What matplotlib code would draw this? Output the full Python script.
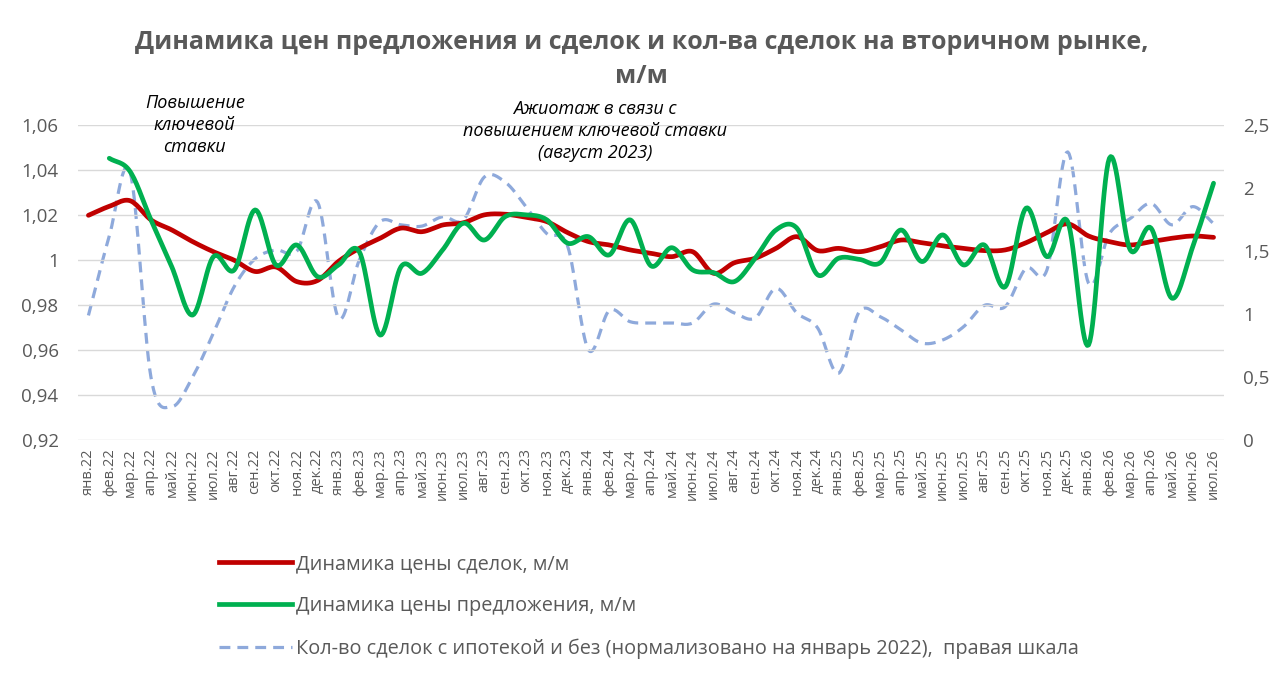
import numpy as np
import matplotlib.pyplot as plt
from matplotlib.lines import Line2D

plt.rcParams["font.family"] = ["Open Sans", "DejaVu Sans"]

months = ["янв", "фев", "мар", "апр", "май", "июн",
          "июл", "авг", "сен", "окт", "ноя", "дек"]
labels = [f"{m}.{y}" for y in (22, 23, 24, 25) for m in months] + \
         [f"{m}.26" for m in months[:7]]

# Динамика цены сделок, м/м
deals_price = [1.020, 1.024, 1.0265, 1.018, 1.0135, 1.0083, 1.0038, 1.000, 0.995, 0.997,
               0.9905, 0.991, 0.9995, 1.0053, 1.0098, 1.0143, 1.0127, 1.0157, 1.0167, 1.0202,
               1.0205, 1.0191, 1.0172, 1.0123, 1.0083, 1.0068, 1.0046, 1.0031, 1.0016, 1.0038,
               0.9942, 0.9989, 1.0009, 1.0053, 1.0105, 1.0043, 1.0053, 1.0038, 1.006, 1.009,
               1.0078, 1.0064, 1.0053, 1.0043, 1.0046, 1.0078, 1.0123, 1.0162, 1.0108, 1.0083,
               1.0068, 1.0083, 1.0098, 1.0108, 1.0102]

# Динамика цены предложения, м/м (нет данных за янв.22)
offer_price = [np.nan, 1.0454, 1.0395, 1.018, 0.9971, 0.9756, 1.0016, 0.9957, 1.0224, 0.9979,
               1.0068, 0.9927, 0.9979, 1.0038, 0.9667, 0.9971, 0.9942, 1.0046, 1.0165, 1.009,
               1.0194, 1.0202, 1.018, 1.0076, 1.0105, 1.0024, 1.018, 0.9975, 1.0056, 0.9957,
               0.9945, 0.9905, 1.0009, 1.0135, 1.0143, 0.9935, 1.0009, 1.0004, 0.9989, 1.0135,
               0.9994, 1.0113, 0.9979, 1.0068, 0.9882, 1.0232, 1.0016, 1.0172, 0.9623, 1.0454,
               1.0046, 1.0143, 0.9831, 1.006, 1.0343]

# Кол-во сделок (норм. на январь 2022), правая шкала
deals_count = [0.99, 1.62, 2.13, 0.50, 0.265, 0.50, 0.85, 1.22, 1.44, 1.51,
               1.50, 1.89, 0.97, 1.43, 1.735, 1.71, 1.70, 1.775, 1.75, 2.09,
               2.05, 1.855, 1.64, 1.54, 0.715, 1.03, 0.94, 0.93, 0.93, 0.93,
               1.08, 1.01, 0.97, 1.205, 1.01, 0.89, 0.53, 1.02, 0.98, 0.875,
               0.77, 0.795, 0.90, 1.07, 1.06, 1.365, 1.35, 2.29, 1.245, 1.64,
               1.76, 1.88, 1.71, 1.855, 1.72]

GREY = "#595959"


def smooth(y, steps=16):
    """Catmull-Rom curve through the points, like Excel's smoothed line."""
    y = np.asarray(y, dtype=float)
    idx = np.where(~np.isnan(y))[0]
    xs, ys = idx.astype(float), y[idx]
    px = np.concatenate([[2 * xs[0] - xs[1]], xs, [2 * xs[-1] - xs[-2]]])
    py = np.concatenate([[2 * ys[0] - ys[1]], ys, [2 * ys[-1] - ys[-2]]])
    t = np.linspace(0, 1, steps, endpoint=False)
    out_x, out_y = [], []
    for i in range(1, len(px) - 2):
        for p, out in ((px, out_x), (py, out_y)):
            p0, p1, p2, p3 = p[i - 1], p[i], p[i + 1], p[i + 2]
            out.extend(0.5 * (2 * p1 + (-p0 + p2) * t
                              + (2 * p0 - 5 * p1 + 4 * p2 - p3) * t ** 2
                              + (-p0 + 3 * p1 - 3 * p2 + p3) * t ** 3))
    out_x.append(xs[-1])
    out_y.append(ys[-1])
    return np.array(out_x), np.array(out_y)


fig = plt.figure(figsize=(12.83, 6.83), dpi=100)
ax = fig.add_axes([0.0608, 0.3558, 0.8932, 0.4605])
ax2 = ax.twinx()

ax.set_zorder(ax2.get_zorder() + 1)
ax.patch.set_visible(False)

bx, by = smooth(deals_count)
ax2.plot(bx, by, color="#8EA9DB", lw=2.3, dashes=(3.4, 2.2))
rx, ry = smooth(deals_price)
ax.plot(rx, ry, color="#C00000", lw=3.4, solid_capstyle="round")
gx, gy = smooth(offer_price)
ax.plot(gx, gy, color="#00B050", lw=3.4, solid_capstyle="round")

x = np.arange(len(labels))
ax.set_xlim(-0.5, len(labels) - 0.5)
ax.set_ylim(0.92, 1.06)
yt = np.arange(0.92, 1.0601, 0.02)
ax.set_yticks(yt)
ax.set_yticklabels([f"{v:.2f}".replace(".", ",").replace("1,00", "1") for v in yt])
ax2.set_ylim(0, 2.5)
ax2.set_yticks(np.arange(0, 2.51, 0.5))
ax2.set_yticklabels(["0", "0,5", "1", "1,5", "2", "2,5"])

ax.set_xticks(x)
ax.set_xticklabels(labels, rotation=90, fontsize=10.5, color=GREY)
ax.grid(axis="y", color="#D9D9D9", lw=1)
ax.set_axisbelow(True)
for a in (ax, ax2):
    for s in a.spines.values():
        s.set_visible(False)
    a.tick_params(length=0, labelsize=13.5, labelcolor=GREY)
ax.tick_params(axis="y", pad=14)
ax2.tick_params(axis="y", pad=14)
ax.tick_params(axis="x", pad=6, labelsize=10.5)

fig.text(0.5, 0.913, "Динамика цен предложения и сделок и кол-ва сделок на вторичном рынке,\nм/м",
         ha="center", va="center", fontsize=18, fontweight="bold", color=GREY, linespacing=1.5)

ax.text(5.1, 1.0603, "Повышение\nключевой\nставки", ha="center", va="center",
        fontsize=13, style="italic", color="black", linespacing=1.3)
ax.text(24.3, 1.0576, "Ажиотаж в связи с\nповышением ключевой ставки\n(август 2023)", ha="center",
        va="center", fontsize=13, style="italic", color="black", linespacing=1.3, clip_on=False)

handles = [
    Line2D([], [], color="#C00000", lw=3.4),
    Line2D([], [], color="#00B050", lw=3.4),
    Line2D([], [], color="#8EA9DB", lw=2.3, dashes=(3.4, 2.2)),
]
names = ["Динамика цены сделок, м/м",
         "Динамика цены предложения, м/м",
         "Кол-во сделок с ипотекой и без (нормализовано на январь 2022),  правая шкала"]
leg = fig.legend(handles, names, loc="upper left", bbox_to_anchor=(0.1645, 0.2),
                 frameon=False, fontsize=14.3, labelcolor=GREY, handlelength=3.7,
                 handletextpad=0.2, labelspacing=1.1, borderaxespad=0)

fig.savefig("out.png", dpi=100, facecolor="white")
